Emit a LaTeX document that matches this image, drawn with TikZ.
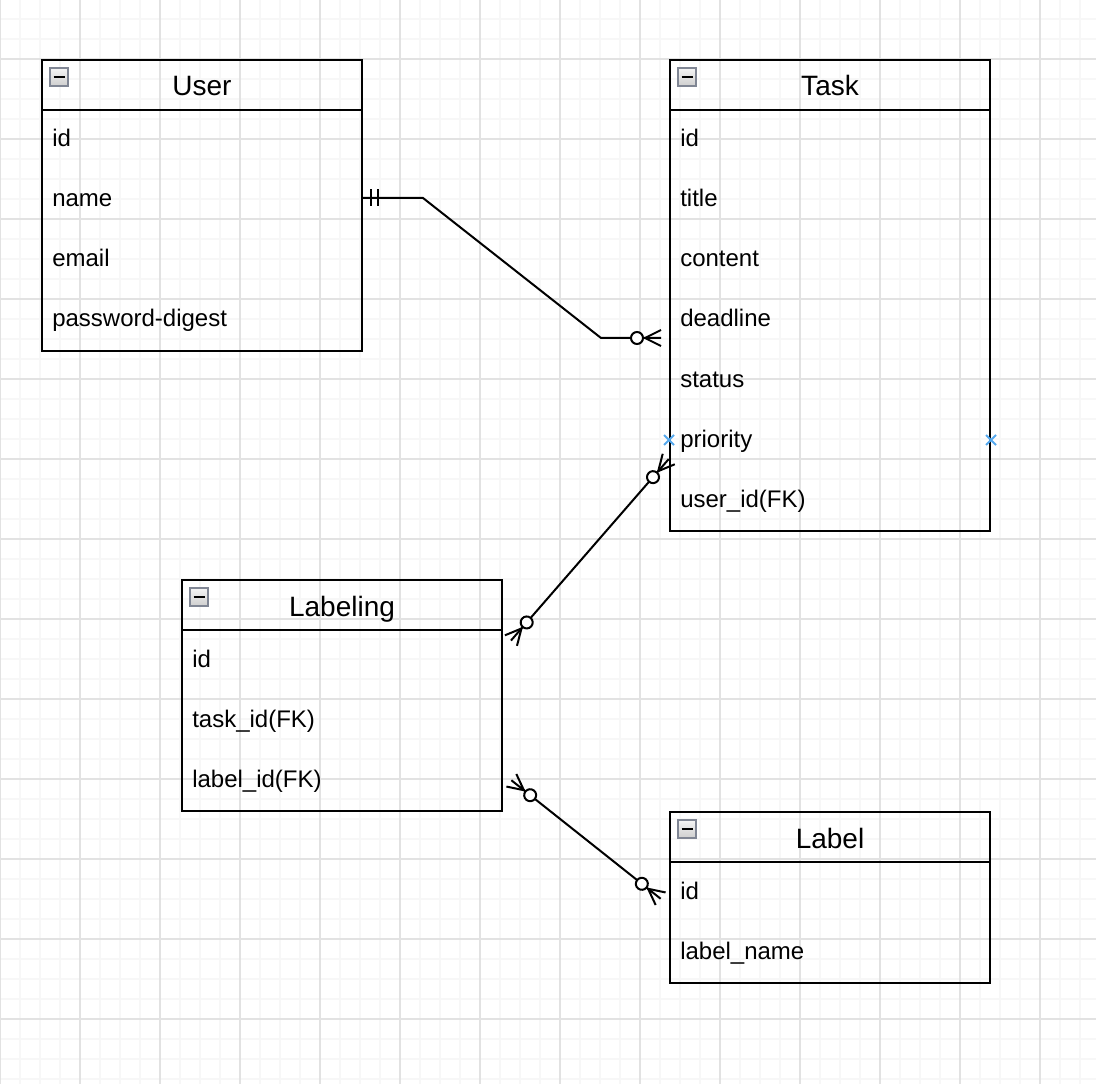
\documentclass[tikz,border=0pt]{standalone}
\usepackage{fontspec}
\setmainfont{Liberation Sans}
\usetikzlibrary{calc,decorations.markings}

\definecolor{gridminor}{RGB}{247,247,247}
\definecolor{gridmajor}{RGB}{226,226,226}
\definecolor{iconborder}{RGB}{128,134,148}
\definecolor{handle}{RGB}{84,168,238}

\tikzset{
  erbox/.style={draw=black, line width=1.5pt, rectangle, minimum width=240pt,
    inner sep=0pt, anchor=north west},
  ertitle/.style={font=\fontsize{21}{25}\selectfont, inner sep=0pt, anchor=base},
  erfield/.style={font=\fontsize{18}{22}\selectfont, inner sep=0pt, anchor=base west},
  erline/.style={line width=1.5pt, black},
  % zero-or-many marker at the end of a path
  zmend/.style={decoration={markings, mark=at position 1 with {
      \draw[erline] (-24,0) -- (-8,8) (-24,0) -- (-8,-8);
      \draw[erline, fill=white] (-32,0) circle[radius=6];
    }}, decorate},
  % zero-or-many marker at the start of a path
  zmstart/.style={decoration={markings, mark=at position 0 with {
      \draw[erline] (24,0) -- (8,8) (24,0) -- (8,-8);
      \draw[erline, fill=white] (32,0) circle[radius=6];
    }}, decorate},
  % exactly-one marker at the start of a path
  onestart/.style={decoration={markings, mark=at position 0 with {
      \draw[erline] (7.5,-8.5) -- (7.5,8.5) (15,-8.5) -- (15,8.5);
    }}, decorate},
}

% header line and collapse icon of an entity box
\newcommand\erheader[1]{%
  \draw[line width=1.5pt] ($(#1.north west)+(0,51)$) -- ($(#1.north east)+(0,51)$);
  \shade[top color=gray!8, bottom color=gray!38, draw=iconborder, line width=1pt]
    ($(#1.north west)+(9,9)$) rectangle ($(#1.north west)+(27,27)$);
  \draw[black, line width=1.6pt] ($(#1.north west)+(12.5,18)$) -- ($(#1.north west)+(23.5,18)$);
}

\begin{document}
\begin{tikzpicture}[x=0.75pt, y=-0.75pt]
\useasboundingbox (0,0) rectangle (1096,1084);
\fill[white] (0,0) rectangle (1096,1084);

% background grid
\foreach \x in {0,20,...,1096} \draw[gridminor, line width=1.1pt] (\x,0) -- (\x,1084);
\foreach \y in {19,39,...,1084} \draw[gridminor, line width=1.1pt] (0,\y) -- (1096,\y);
\foreach \x in {0,80,...,1096} \draw[gridmajor, line width=1.1pt] (\x,0) -- (\x,1084);
\foreach \y in {59,139,...,1084} \draw[gridmajor, line width=1.1pt] (0,\y) -- (1096,\y);

% ---- User ----
\node[erbox, minimum height=218.25pt] (user) at (41,59) {};
\erheader{user}
\node[ertitle] (userT) at ($(user.north)+(0,37)$) {User};
\node[erfield] (u1) at ($(user.north west)+(11,88)$) {id};
\node[erfield] (u2) at ($(user.north west)+(11,148)$) {name};
\node[erfield] (u3) at ($(user.north west)+(11,208)$) {email};
\node[erfield] (u4) at ($(user.north west)+(11,268)$) {password-digest};

% ---- Task ----
\node[erbox, minimum height=353.25pt] (task) at (669,59) {};
\erheader{task}
\node[ertitle] (taskT) at ($(task.north)+(0,37)$) {Task};
\node[erfield] (t1) at ($(task.north west)+(11,88)$) {id};
\node[erfield] (t2) at ($(task.north west)+(11,148)$) {title};
\node[erfield] (t3) at ($(task.north west)+(11,208)$) {content};
\node[erfield] (t4) at ($(task.north west)+(11,268)$) {deadline};
\node[erfield] (t5) at ($(task.north west)+(11,328)$) {status};
\node[erfield] (t6) at ($(task.north west)+(11,388)$) {priority};
\node[erfield] (t7) at ($(task.north west)+(11,448)$) {user\_id(FK)};

% ---- Labeling ----
\node[erbox, minimum height=173.25pt] (labeling) at (181,579) {};
\erheader{labeling}
\node[ertitle] (labelingT) at ($(labeling.north)+(0,37)$) {Labeling};
\node[erfield] (g1) at ($(labeling.north west)+(11,88)$) {id};
\node[erfield] (g2) at ($(labeling.north west)+(11,148)$) {task\_id(FK)};
\node[erfield] (g3) at ($(labeling.north west)+(11,208)$) {label\_id(FK)};

% ---- Label ----
\node[erbox, minimum height=128.25pt] (label) at (669,811) {};
\erheader{label}
\node[ertitle] (labelT) at ($(label.north)+(0,37)$) {Label};
\node[erfield] (l1) at ($(label.north west)+(11,88)$) {id};
\node[erfield] (l2) at ($(label.north west)+(11,148)$) {label\_name};

% connection handles on the Task box
\draw[handle, line width=1.4pt]
  ($(task.north west)+(-5,376)$) -- ($(task.north west)+(5,386)$)
  ($(task.north west)+(-5,386)$) -- ($(task.north west)+(5,376)$)
  ($(task.north east)+(-5,376)$) -- ($(task.north east)+(5,386)$)
  ($(task.north east)+(-5,386)$) -- ($(task.north east)+(5,376)$);

% connector end points
\coordinate (uName)  at ($(user.north east)+(0,139)$);
\coordinate (uBend)  at ($(uName)+(60,0)$);
\coordinate (tDead)  at ($(task.north west)+(0,279)$);
\coordinate (tBend)  at ($(tDead)+(-68,0)$);
\coordinate (tPrio)  at ($(task.north west)+(5,394)$);
\coordinate (gTop)   at ($(labeling.north east)+(2.7,67.6)$);
\coordinate (gLow)   at ($(labeling.north east)+(2.1,196.3)$);
\coordinate (lId)    at ($(label.north west)+(-2.1,92.7)$);

% User 1 -- 0..n Task
\draw[erline] (uName) -- (uBend) -- (tBend) -- ($(tDead)+(-8,0)$);
\path[onestart] (uName) -- (uBend);
\path[zmend] (tBend) -- (tDead);

% Labeling 0..n -- 0..n Task
\draw[erline] ($(gTop)!6pt!(tPrio)$) -- ($(tPrio)!6pt!(gTop)$);
\path[zmstart] (gTop) -- (tPrio);
\path[zmend] (gTop) -- (tPrio);

% Labeling 0..n -- 0..n Label
\draw[erline] ($(gLow)!6pt!(lId)$) -- ($(lId)!6pt!(gLow)$);
\path[zmstart] (gLow) -- (lId);
\path[zmend] (gLow) -- (lId);
\end{tikzpicture}
\end{document}
